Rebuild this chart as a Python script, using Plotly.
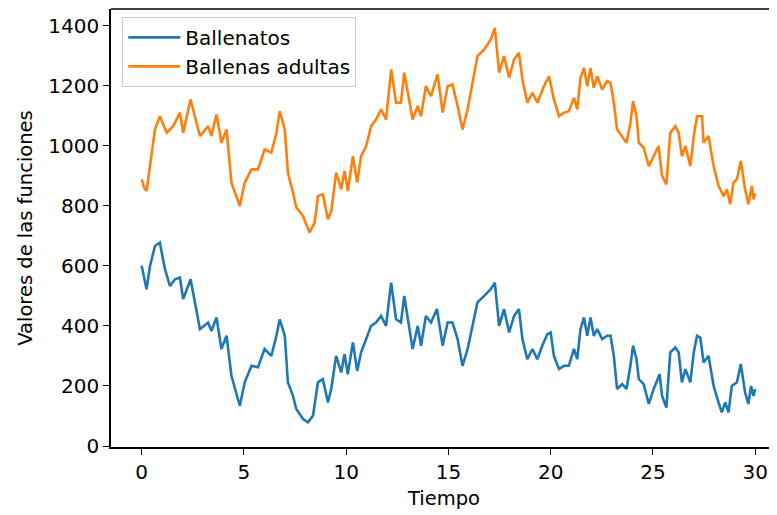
import plotly.graph_objects as go

# Valores
tiempo_ballenatos = [0.0, 0.24, 0.41, 0.65, 0.89, 1.14, 1.38, 1.63, 1.87, 2.03, 2.39, 2.6, 2.85, 3.25, 3.41,
                     3.66, 3.9, 4.15, 4.39, 4.8, 5.04, 5.37, 5.69, 6.01, 6.34, 6.59, 6.75, 7.0, 7.15, 7.4,
                     7.56, 7.89, 8.13, 8.38, 8.62, 8.86, 9.11, 9.27, 9.51, 9.76, 9.92, 10.08, 10.33, 10.54,
                     10.73, 10.98, 11.22, 11.46, 11.71, 11.95, 12.2, 12.44, 12.68, 12.84, 13.09, 13.25, 13.5,
                     13.66, 13.9, 14.15, 14.44, 14.72, 14.96, 15.2, 15.45, 15.69, 15.94, 16.18, 16.42, 16.75,
                     17.07, 17.27, 17.48, 17.72, 17.97, 18.21, 18.45, 18.62, 18.86, 19.11, 19.35, 19.59, 19.84,
                     20.0, 20.16, 20.41, 20.65, 20.89, 21.14, 21.3, 21.46, 21.63, 21.79, 21.95, 22.11, 22.28,
                     22.52, 22.76, 22.93, 23.09, 23.25, 23.5, 23.71, 23.9, 24.03, 24.2, 24.31, 24.55, 24.8,
                     25.04, 25.33, 25.45, 25.66, 25.85, 26.1, 26.26, 26.42, 26.59, 26.83, 27.0, 27.16, 27.32,
                     27.48, 27.72, 27.97, 28.21, 28.37, 28.54, 28.7, 28.86, 29.11, 29.3, 29.51, 29.67, 29.8,
                     29.92, 30.0]
ballenatos = [600, 522, 600, 666, 677, 589, 533, 555, 561, 489, 555, 478, 389, 411, 383,
              428, 323, 367, 234, 134, 212, 267, 262, 323, 300, 367, 422, 367, 212, 167,
              123, 90, 79, 101, 212, 223, 145, 190, 300, 245, 306, 239, 345, 250,
              312, 356, 400, 411, 433, 400, 544, 422, 411, 500, 400, 323, 400,
              334, 433, 411, 456, 334, 411, 411, 356, 267, 323, 400, 478, 500,
              522, 544, 400, 456, 378, 433, 456, 356, 289, 323, 289, 334, 372,
              378, 300, 256, 267, 267, 323, 289, 389, 428, 367, 428, 367, 389,
              356, 367, 367, 300, 190, 206, 190, 267, 334, 289, 223, 206, 140,
              190, 239, 167, 128, 312, 328, 312, 212, 256, 212, 312, 367, 361,
              278, 300, 200, 145, 112, 145, 112, 200, 212, 273, 178, 140, 200,
              167, 190]

tiempo_adultas = [0.0, 0.12, 0.24, 0.49, 0.65, 0.89, 1.22, 1.54, 1.87, 2.03, 2.39, 2.6, 2.85, 3.25, 3.41,
                  3.66, 3.9, 4.15, 4.39, 4.8, 5.04, 5.37, 5.69, 6.01, 6.34, 6.59, 6.75, 7.0, 7.15, 7.4,
                  7.56, 7.89, 8.21, 8.46, 8.62, 8.86, 9.11, 9.27, 9.51, 9.76, 9.92, 10.08, 10.33, 10.54,
                  10.73, 10.98, 11.22, 11.46, 11.71, 11.95, 12.2, 12.44, 12.68, 12.84, 13.09, 13.25, 13.5,
                  13.66, 13.9, 14.15, 14.47, 14.72, 14.96, 15.2, 15.45, 15.69, 15.94, 16.18, 16.42, 16.75,
                  17.07, 17.27, 17.48, 17.72, 17.97, 18.21, 18.45, 18.62, 18.86, 19.11, 19.35, 19.67, 19.92,
                  20.16, 20.41, 20.65, 20.89, 21.14, 21.3, 21.46, 21.63, 21.79, 21.95, 22.11, 22.28, 22.52,
                  22.76, 22.93, 23.09, 23.25, 23.5, 23.71, 23.9, 24.03, 24.2, 24.31, 24.55, 24.8, 25.04,
                  25.28, 25.45, 25.66, 25.85, 26.1, 26.26, 26.42, 26.59, 26.83, 27.0, 27.16, 27.4, 27.48,
                  27.72, 27.97, 28.21, 28.46, 28.62, 28.78, 28.94, 29.11, 29.3, 29.51, 29.67, 29.84, 29.92,
                  30.0]
ballenas_adultas = [888, 860, 849, 965, 1054, 1098, 1043, 1065, 1110, 1043, 1154, 1098, 1032, 1065, 1032,
                    1104, 1010, 1054, 877, 799, 877, 921, 921, 988, 977, 1043, 1115, 1054, 910, 844,
                    794, 766, 711, 744, 832, 838, 755, 780, 910, 855, 916, 849, 965, 877,
                    965, 999, 1065, 1087, 1121, 1087, 1254, 1143, 1143, 1243, 1143, 1087, 1132,
                    1098, 1198, 1165, 1237, 1110, 1198, 1204, 1132, 1054, 1121, 1209, 1298, 1320,
                    1354, 1392, 1243, 1298, 1226, 1287, 1309, 1220, 1143, 1176, 1143, 1198, 1231,
                    1154, 1098, 1110, 1115, 1159, 1121, 1226, 1259, 1198, 1259, 1193, 1231, 1187,
                    1215, 1209, 1143, 1054, 1032, 1010, 1076, 1148, 1098, 1010, 993, 932, 965,
                    999, 899, 871, 1043, 1065, 1043, 965, 999, 932, 1032, 1098, 1098, 1010,
                    1032, 932, 866, 832, 855, 805, 877, 888, 949, 855, 805, 866, 821,
                    840]

x_ticks = [0, 5, 10, 15, 20, 25, 30]
y_ticks = [0, 200, 400, 600, 800, 1000, 1200, 1400]

FONT = "DejaVu Sans"
FS_TICK = 20
FS_TITLE = 19.5

fig = go.Figure()
fig.add_trace(go.Scatter(x=tiempo_ballenatos, y=ballenatos, mode="lines", name="Ballenatos",
                         line=dict(color="#1f77b4", width=2.6)))
fig.add_trace(go.Scatter(x=tiempo_adultas, y=ballenas_adultas, mode="lines", name="Ballenas adultas",
                         line=dict(color="#ff7f0e", width=2.6)))

axis_common = dict(showgrid=False, zeroline=False, showline=True, linecolor="black", linewidth=1.5,
                   ticks="outside", ticklen=6, tickwidth=1.3, tickcolor="black",
                   tickfont=dict(family=FONT, size=FS_TICK, color="black"))

# the page body has an 8px default margin, so the figure is 8px smaller than the window
fig.update_layout(
    width=769, height=507,
    margin=dict(l=103, r=0, t=1, b=68),
    paper_bgcolor="white", plot_bgcolor="white",
    font=dict(family=FONT, size=FS_TICK, color="black"),
    xaxis=dict(range=[-1.5, 31.07], tickvals=x_ticks, mirror=False,
               title=dict(text="Tiempo", font=dict(family=FONT, size=FS_TITLE), standoff=9),
               **axis_common),
    yaxis=dict(range=[-3.3, 1455], tickvals=y_ticks,
               title=dict(text="Valores de las funciones", font=dict(family=FONT, size=FS_TITLE), standoff=11),
               **axis_common),
    legend=dict(x=0.017, y=0.982, xanchor="left", yanchor="top",
                bgcolor="rgba(255,255,255,0.8)", bordercolor="#cccccc", borderwidth=1,
                font=dict(family=FONT, size=FS_TICK, color="black"), tracegroupgap=0, itemwidth=52),
    showlegend=True,
)
# top spine
fig.add_shape(type="line", xref="paper", yref="paper", x0=0, x1=1, y0=1, y1=1,
              line=dict(color="black", width=1.5))

fig.write_html("out.html")
